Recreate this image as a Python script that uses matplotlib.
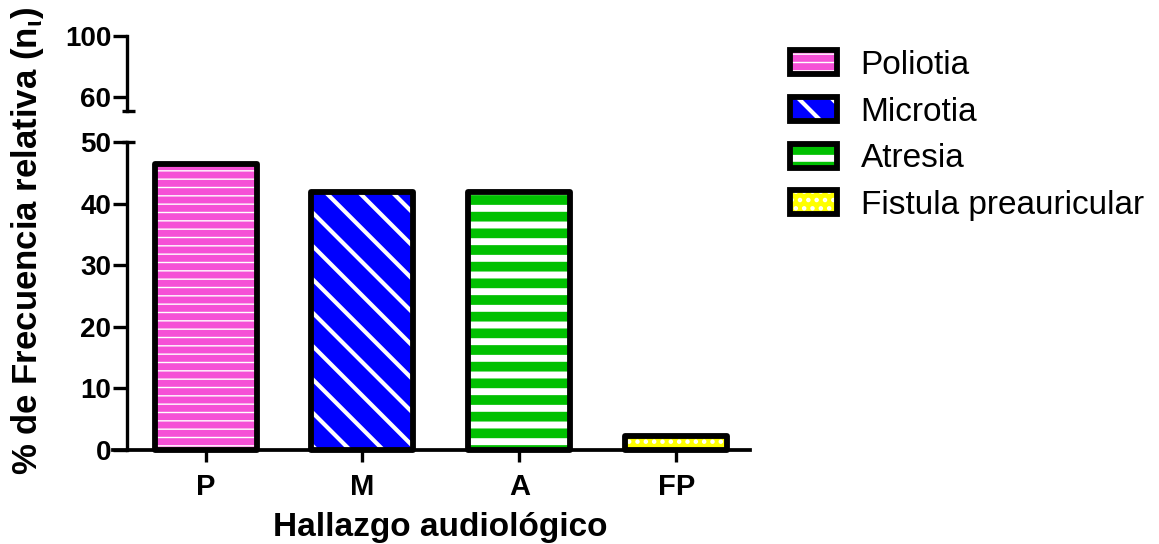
import numpy as np
import matplotlib
matplotlib.use("Agg")
import matplotlib.pyplot as plt
from matplotlib.legend_handler import HandlerTuple

plt.rcParams["font.family"] = ["Liberation Sans", "DejaVu Sans"]
plt.rcParams["mathtext.fontset"] = "custom"
plt.rcParams["mathtext.rm"] = "Liberation Sans"
plt.rcParams["mathtext.bf"] = "Liberation Sans:bold"
plt.rcParams["mathtext.it"] = "Liberation Sans:italic"

# ---- data ----
categories = ["P", "M", "A", "FP"]
series_names = ["Poliotia", "Microtia", "Atresia", "Fistula preauricular"]
values = [46.5, 41.9, 41.9, 2.3]
lower_ticks = [0, 10, 20, 30, 40, 50]
upper_ticks = [60, 100]
xlabel_text = "Hallazgo audiológico"
ylabel_text = r"% de Frecuencia relativa (n$_{\mathbf{\iota}}$)"

# ---- style ----
colors = ["#F550D6", "#0000FF", "#00C000", "#FFFF00"]
hatches = ["--", "\\", "-", ".."]
hatch_widths = [1.0, 3.0, 5.0, 2.0]
bar_width = 0.65
edge_width = 4.2
spine_width = 2.4

W, H = 1159, 544
fig = plt.figure(figsize=(W / 100, H / 100), dpi=100)
ax = fig.add_axes([113 / W, 1 - 450 / H, 637 / W, 308 / H])
axu = fig.add_axes([113 / W, 1 - 111 / H, 637 / W, 75 / H])


def set_hatch_width(patch, width):
    if hasattr(patch, "set_hatch_linewidth"):
        patch.set_hatch_linewidth(width)


x = np.arange(len(categories))
handles = []
for i in range(len(categories)):
    with plt.rc_context({"hatch.linewidth": hatch_widths[i]}):
        fill = ax.bar(x[i], values[i], bar_width, color=colors[i],
                      edgecolor="white", hatch=hatches[i], linewidth=0,
                      zorder=2)[0]
    set_hatch_width(fill, hatch_widths[i])
    edge = ax.bar(x[i], values[i], bar_width, facecolor="none",
                  edgecolor="black", linewidth=edge_width, joinstyle="round",
                  zorder=3, clip_on=False)[0]
    handles.append((fill, edge))

xmin, xmax = -0.59, 3.47
spine_x = -0.5
lower_top = 50
upper_bottom = 50.8

# lower axis
ax.set_xlim(xmin, xmax)
ax.set_ylim(0, lower_top)
for s in ("top", "right"):
    ax.spines[s].set_visible(False)
ax.spines["left"].set_position(("data", spine_x))
ax.spines["left"].set_linewidth(spine_width)
ax.spines["bottom"].set_linewidth(2.7)
ax.set_yticks(lower_ticks, labels=[str(t) for t in lower_ticks],
              fontsize=20, fontweight="bold")
ax.set_xticks(x, labels=categories, fontsize=21, fontweight="bold")
ax.tick_params(axis="y", length=10, width=spine_width, pad=1.5)
ax.tick_params(axis="x", length=8.5, width=spine_width, pad=8)

# upper axis
axu.set_xlim(xmin, xmax)
axu.set_ylim(upper_bottom, 100)
for s in ("top", "right", "bottom"):
    axu.spines[s].set_visible(False)
axu.spines["left"].set_position(("data", spine_x))
axu.spines["left"].set_linewidth(spine_width)
axu.set_xticks([])
axu.set_yticks(upper_ticks, labels=[str(t) for t in upper_ticks],
               fontsize=20, fontweight="bold")
axu.tick_params(axis="y", length=10, width=spine_width, pad=1.5)
axu.patch.set_visible(False)

# break marks at the ends of the split axis
mark = [spine_x - 0.032, spine_x + 0.05]
axu.plot(mark, [upper_bottom, upper_bottom], color="black",
         lw=spine_width, clip_on=False, solid_capstyle="butt")
ax.plot(mark, [lower_top, lower_top], color="black",
        lw=spine_width, clip_on=False, solid_capstyle="butt")

# axis titles
fig.text(440 / W, 1 - 536 / H, xlabel_text, ha="center", va="baseline",
         fontsize=24, fontweight="bold")
fig.text(9 / W, 1 - 475 / H, ylabel_text, rotation=90, ha="left",
         va="bottom", fontsize=25, fontweight="bold")

leg = fig.legend(handles, series_names, loc="upper left",
                 bbox_to_anchor=(790 / W, 1 - 50 / H), frameon=False,
                 fontsize=24, handlelength=1.4, handleheight=0.72,
                 handletextpad=0.72, labelspacing=0.47, borderpad=0,
                 borderaxespad=0,
                 handler_map={tuple: HandlerTuple(ndivide=1)})
for lh, w in zip(leg.legend_handles, hatch_widths):
    set_hatch_width(lh, w)

fig.savefig("out.png", dpi=100)
